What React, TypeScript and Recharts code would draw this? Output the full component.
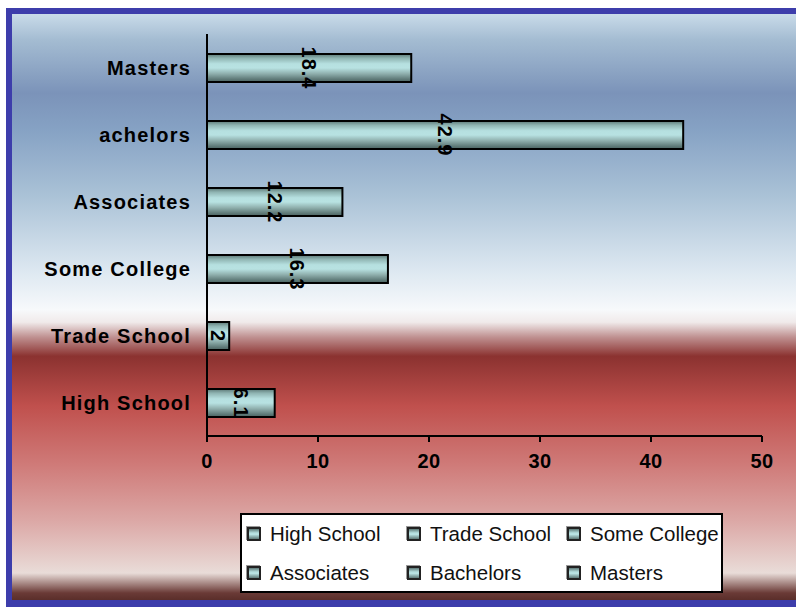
import React from "react";
import { BarChart, Bar, XAxis, YAxis, LabelList } from "recharts";

// education levels, top row first
const levels = ["Masters", "achelors", "Associates", "Some College", "Trade School", "High School"];
const percents = [18.4, 42.9, 12.2, 16.3, 2, 6.1];
const xTicks = [0, 10, 20, 30, 40, 50];
const legendNames = ["High School", "Trade School", "Some College", "Associates", "Bachelors", "Masters"];

const data = levels.map((name, i) => ({ name, value: percents[i] }));

const FONT = "'Liberation Sans', Arial, sans-serif";

const pageBg =
  "linear-gradient(to bottom, #c9dbe9 0%, #a4bcd2 4.4%, #7b93b9 13.5%, #86a2c4 19.8%, #a9c1d6 30.7%, #dde8f1 43.9%, #f7f9fb 50.5%, #f0eaea 52.6%, #c09292 55.1%, #8b3230 58.4%, #c0504d 66.9%, #cf7a78 76.8%, #dca9a7 86.7%, #e9dcd8 95.4%, #6a3a36 98.8%, #5a2e2a 100%)";

const swatchBg = "linear-gradient(to bottom, #5c7876 0%, #b6e0e0 40%, #b8e2e2 55%, #5f7a78 100%)";

function ValueLabel(props: any) {
  const { x, y, width, height, value } = props;
  const cx = x + width / 2;
  const cy = y + height / 2;
  return (
    <text
      x={cx}
      y={cy}
      transform={`rotate(90, ${cx}, ${cy})`}
      textAnchor="middle"
      dominantBaseline="central"
      fill="#000"
      style={{ fontFamily: FONT, fontSize: 20, fontWeight: "bold", letterSpacing: 1 }}
    >
      {value}
    </text>
  );
}

function LegendBox() {
  return (
    <div
      style={{
        position: "absolute",
        left: 240,
        top: 513,
        width: 479,
        height: 76,
        background: "#fff",
        border: "2px solid #000",
        fontFamily: FONT,
        fontSize: 20.5,
        color: "#111",
      }}
    >
      {legendNames.map((name, i) => {
        const col = i % 3;
        const row = Math.floor(i / 3);
        return (
          <div
            key={name}
            style={{
              position: "absolute",
              left: 5 + col * 160,
              top: row * 39 + 6,
              height: 26,
              display: "flex",
              alignItems: "center",
              whiteSpace: "nowrap",
            }}
          >
            <span
              style={{
                display: "inline-block",
                width: 10,
                height: 10,
                border: "2px solid #222",
                background: swatchBg,
                marginRight: 9,
                boxShadow: "-1px -1px 0 #999",
              }}
            />
            {name}
          </div>
        );
      })}
    </div>
  );
}

export default function App() {
  return (
    <div
      style={{
        position: "absolute",
        left: 0,
        top: 0,
        width: 796,
        height: 607,
        background: "#fff",
        overflow: "hidden",
      }}
    >
      <div
        style={{
          position: "absolute",
          left: 6,
          top: 8,
          width: 800,
          height: 586,
          borderLeft: "6px solid #3d3dab",
          borderTop: "6px solid #3d3dab",
          borderBottom: "7px solid #3d3dab",
          borderRight: "none",
          background: pageBg,
        }}
      />
      <div style={{ position: "absolute", left: 0, top: 0 }}>
        <BarChart
          width={796}
          height={607}
          data={data}
          layout="vertical"
          margin={{ top: 34, right: 34, left: 0, bottom: 131 }}
        >
          <defs>
            <linearGradient id="barShade" x1="0" y1="0" x2="0" y2="1">
              <stop offset="0%" stopColor="#5c7876" />
              <stop offset="15%" stopColor="#8fb4b2" />
              <stop offset="35%" stopColor="#b6e0e0" />
              <stop offset="50%" stopColor="#b8e2e2" />
              <stop offset="70%" stopColor="#90b0ae" />
              <stop offset="90%" stopColor="#5f7a78" />
              <stop offset="100%" stopColor="#4a6260" />
            </linearGradient>
          </defs>
          <XAxis
            type="number"
            domain={[0, 50]}
            ticks={xTicks}
            height={40}
            axisLine={{ stroke: "#000", strokeWidth: 2 }}
            tickLine={{ stroke: "#000", strokeWidth: 2 }}
            tickSize={6}
            tickMargin={12}
            tick={{ fill: "#000", fontFamily: FONT, fontSize: 20, fontWeight: "bold", letterSpacing: 0.5 }}
          />
          <YAxis
            type="category"
            dataKey="name"
            width={207}
            axisLine={{ stroke: "#000", strokeWidth: 2 }}
            tickLine={false}
            tickMargin={10}
            tick={{ fill: "#000", fontFamily: FONT, fontSize: 20, fontWeight: "bold", letterSpacing: 1.2 }}
          />
          <Bar
            dataKey="value"
            barSize={28}
            fill="url(#barShade)"
            stroke="#000"
            strokeWidth={2}
            isAnimationActive={false}
          >
            <LabelList dataKey="value" content={<ValueLabel />} />
          </Bar>
        </BarChart>
      </div>
      <LegendBox />
    </div>
  );
}
